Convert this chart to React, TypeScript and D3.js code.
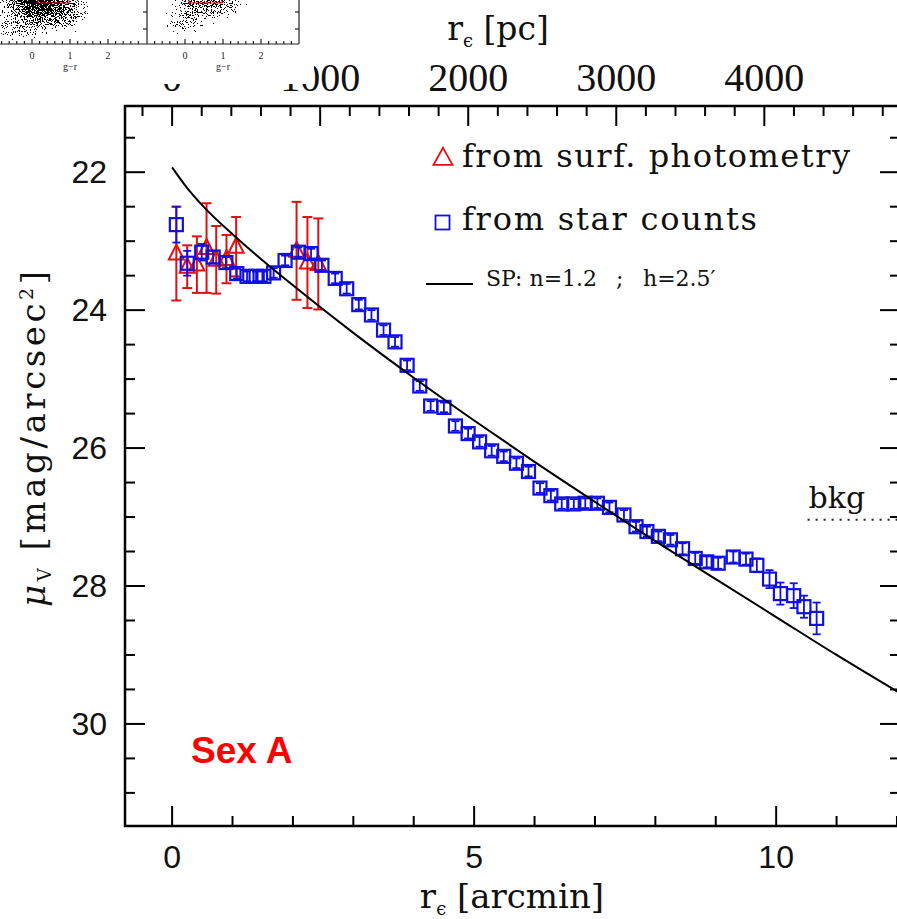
import React from "react";
import * as d3 from "d3";

// ---------- data ----------
const PC_PER_ARCMIN = 408;

// star counts (blue squares)
const starR = [0.07, 0.25, 0.49, 0.68, 0.89, 1.07, 1.24, 1.39, 1.52, 1.68, 1.87, 2.09, 2.30, 2.48, 2.70, 2.89, 3.09, 3.30, 3.50, 3.69, 3.89, 4.10, 4.28, 4.50, 4.69, 4.90, 5.09, 5.29, 5.49, 5.70, 5.90, 6.09, 6.27, 6.45, 6.65, 6.84, 7.04, 7.24, 7.48, 7.68, 7.86, 8.05, 8.25, 8.45, 8.66, 8.85, 9.04, 9.29, 9.50, 9.68, 9.89, 10.07, 10.29, 10.46, 10.67];
const starMu = [22.76, 23.32, 23.16, 23.23, 23.31, 23.47, 23.51, 23.51, 23.51, 23.46, 23.28, 23.16, 23.18, 23.35, 23.54, 23.69, 23.92, 24.07, 24.29, 24.46, 24.80, 25.10, 25.39, 25.41, 25.68, 25.79, 25.91, 26.04, 26.12, 26.22, 26.34, 26.58, 26.69, 26.81, 26.81, 26.80, 26.80, 26.86, 26.97, 27.14, 27.21, 27.28, 27.33, 27.46, 27.60, 27.65, 27.67, 27.58, 27.61, 27.70, 27.90, 28.11, 28.14, 28.30, 28.47];
const starErr = [0.26, 0.18, 0.12, 0.09, 0.08, 0.07, 0.07, 0.07, 0.07, 0.07, 0.07, 0.07, 0.07, 0.07, 0.07, 0.07, 0.07, 0.07, 0.07, 0.07, 0.07, 0.07, 0.07, 0.07, 0.07, 0.07, 0.07, 0.07, 0.07, 0.07, 0.07, 0.07, 0.07, 0.07, 0.07, 0.07, 0.07, 0.07, 0.07, 0.07, 0.07, 0.07, 0.07, 0.08, 0.08, 0.08, 0.08, 0.08, 0.08, 0.10, 0.13, 0.16, 0.18, 0.16, 0.23];

// surface photometry (red triangles)
const photR = [0.07, 0.25, 0.41, 0.57, 0.73, 0.90, 1.06, 2.06, 2.24, 2.42];
const photMu = [23.18, 23.37, 23.34, 23.10, 23.27, 23.26, 23.08, 23.14, 23.31, 23.33];
const photErr = [0.68, 0.31, 0.41, 0.65, 0.49, 0.35, 0.43, 0.71, 0.66, 0.66];

// Sersic model curve
const modelR = [0, 0.25, 0.5, 1, 1.5, 2, 3, 4, 5, 6, 7, 8, 9, 10, 11, 12.1];
const modelMu = [21.93, 22.23, 22.48, 22.9, 23.28, 23.64, 24.33, 24.98, 25.6, 26.2, 26.78, 27.35, 27.9, 28.45, 29.0, 29.58];

// axes
const yMajorTicks = [22, 24, 26, 28, 30];
const xMajorTicks = [0, 5, 10];
const pcMajorTicks = [0, 1000, 2000, 3000, 4000];
const cmdTickLabels = [0, 1, 2];

// background level
const bkgMu = 27.04;
const bkgStartR = 10.52;

// ---------- layout ----------
const W = 897;
const H = 919;
const FRAME = { left: 125, right: 900, top: 106, bottom: 826 };

const x = d3.scaleLinear().domain([-0.78, 12.05]).range([FRAME.left, FRAME.right]);
const y = d3.scaleLinear().domain([21.04, 31.48]).range([FRAME.top, FRAME.bottom]);
const xPc = d3
  .scaleLinear()
  .domain(x.domain().map((d) => d * PC_PER_ARCMIN))
  .range(x.range());

const cmdL = d3.scaleLinear().domain([0, 1]).range([32, 70]);
const cmdR = d3.scaleLinear().domain([0, 1]).range([185, 223]);

const RED = "#e01010";
const BLUE = "#1010e0";
const SERIF = "'DejaVu Serif', serif";
const TIMES = "'Liberation Serif', 'Times New Roman', serif";
const SANS = "'Liberation Sans', Arial, sans-serif";

export default function App() {
  const yMinor = d3.range(21.5, 31.5, 0.5);
  const xMinor = d3.range(0, 13, 1);
  const pcMinor = d3.range(-200, 5000, 200);

  const line = d3
    .line<number>()
    .x((_, i) => x(modelR[i]))
    .y((d) => y(d))
    .curve(d3.curveMonotoneX);

  const tri = (cx: number, cy: number, w: number, h: number) =>
    `M${cx},${cy - h * 0.6} L${cx - w / 2},${cy + h * 0.4} L${cx + w / 2},${cy + h * 0.4} Z`;

  const cmdTicks = d3.range(-0.8, 2.85, 0.2);
  const sq = 13;

  return (
    <svg width={W} height={H} viewBox={`0 0 ${W} ${H}`} style={{ display: "block", background: "#fff" }}>
      <style>{`body{margin:0}`}</style>
      <defs>
        <clipPath id="plotClip">
          <rect x={FRAME.left} y={FRAME.top} width={FRAME.right - FRAME.left} height={FRAME.bottom - FRAME.top} />
        </clipPath>
        <clipPath id="cmdClipL">
          <rect x={0} y={0} width={147} height={44} />
        </clipPath>
        <clipPath id="cmdClipR">
          <rect x={147} y={0} width={152} height={44} />
        </clipPath>
        <radialGradient id="dens">
          <stop offset="0%" stopColor="#000" stopOpacity={1} />
          <stop offset="35%" stopColor="#000" stopOpacity={0.75} />
          <stop offset="70%" stopColor="#000" stopOpacity={0.35} />
          <stop offset="100%" stopColor="#000" stopOpacity={0} />
        </radialGradient>
        <filter id="spk" filterUnits="userSpaceOnUse" x={0} y={0} width={300} height={50} colorInterpolationFilters="sRGB">
          <feTurbulence type="fractalNoise" baseFrequency="1.1" numOctaves={2} seed={7} result="n" />
          <feColorMatrix in="n" type="matrix" values="0 0 0 0 0  0 0 0 0 0  0 0 0 0 0  1.8 0 0 0 -0.4" result="na" />
          <feComposite in="na" in2="SourceAlpha" operator="arithmetic" k1={0} k2={1} k3={1} k4={-0.72} result="s" />
          <feComponentTransfer in="s">
            <feFuncA type="discrete" tableValues="0 1" />
          </feComponentTransfer>
        </filter>
      </defs>

      {/* ---------- frame & ticks ---------- */}
      <rect x={FRAME.left} y={FRAME.top} width={FRAME.right - FRAME.left} height={FRAME.bottom - FRAME.top} fill="none" stroke="#000" strokeWidth={2.5} />
      {yMinor.map((v) => {
        const major = v % 2 === 0;
        const len = major ? 20 : 10;
        return (
          <g key={`yt${v}`} stroke="#000" strokeWidth={2}>
            <line x1={FRAME.left} x2={FRAME.left + len} y1={y(v)} y2={y(v)} />
            <line x1={FRAME.right} x2={FRAME.right - len} y1={y(v)} y2={y(v)} />
          </g>
        );
      })}
      {xMinor.map((v) => {
        const len = v % 5 === 0 ? 20 : 10;
        return <line key={`xt${v}`} x1={x(v)} x2={x(v)} y1={FRAME.bottom} y2={FRAME.bottom - len} stroke="#000" strokeWidth={2} />;
      })}
      {pcMinor.map((v) => {
        const len = v % 1000 === 0 ? 20 : 10;
        return <line key={`pt${v}`} x1={xPc(v)} x2={xPc(v)} y1={FRAME.top} y2={FRAME.top + len} stroke="#000" strokeWidth={2} />;
      })}

      {/* tick labels */}
      {yMajorTicks.map((v) => (
        <text key={`yl${v}`} x={107} y={y(v) + 11} textAnchor="end" fontFamily={SANS} fontSize={32} fill="#111">
          {v}
        </text>
      ))}
      {xMajorTicks.map((v) => (
        <text key={`xl${v}`} x={x(v)} y={868} textAnchor="middle" fontFamily={SANS} fontSize={32} fill="#111">
          {v}
        </text>
      ))}
      {pcMajorTicks.map((v) => (
        <text key={`pl${v}`} x={xPc(v)} y={91} textAnchor="middle" fontFamily={TIMES} fontSize={40} fill="#111">
          {v}
        </text>
      ))}

      {/* axis titles */}
      <text x={512} y={908} textAnchor="middle" fontFamily={SERIF} fontSize={34} fill="#111">
        r<tspan fontSize={18} dy={7}>ϵ</tspan>
        <tspan dy={-7}> [arcmin]</tspan>
      </text>
      <text x={498} y={40} textAnchor="middle" fontFamily={SERIF} fontSize={33} fill="#111">
        r<tspan fontSize={18} dy={7}>ϵ</tspan>
        <tspan dy={-7}> [pc]</tspan>
      </text>
      <text transform="translate(45,439) rotate(-90)" textAnchor="middle" fontFamily={SERIF} fontSize={34} textLength={336} lengthAdjust="spacing" fill="#111">
        <tspan fontStyle="italic">μ</tspan>
        <tspan fontSize={18} dy={6}>V</tspan>
        <tspan dy={-6}> [mag/arcsec</tspan>
        <tspan fontSize={19} dy={-12}>2</tspan>
        <tspan dy={12}>]</tspan>
      </text>

      {/* ---------- data ---------- */}
      <g clipPath="url(#plotClip)">
        {/* surface photometry */}
        <g stroke={RED} strokeWidth={2} fill="none">
          {photR.map((r, i) => {
            const cx = x(r);
            const y1 = y(photMu[i] - photErr[i]);
            const y2 = y(photMu[i] + photErr[i]);
            return (
              <g key={`p${i}`}>
                <line x1={cx} x2={cx} y1={y1} y2={y2} />
                <line x1={cx - 5} x2={cx + 5} y1={y1} y2={y1} />
                <line x1={cx - 5} x2={cx + 5} y1={y2} y2={y2} />
                <path d={tri(cx, y(photMu[i]), 15, 15)} />
              </g>
            );
          })}
        </g>
        {/* star counts */}
        <g stroke={BLUE} strokeWidth={2} fill="none">
          {starR.map((r, i) => {
            const cx = x(r);
            const cy = y(starMu[i]);
            const y1 = y(starMu[i] - starErr[i]);
            const y2 = y(starMu[i] + starErr[i]);
            return (
              <g key={`s${i}`}>
                <line x1={cx} x2={cx} y1={y1} y2={y2} strokeWidth={1.8} />
                <line x1={cx - 4} x2={cx + 4} y1={y1} y2={y1} strokeWidth={1.8} />
                <line x1={cx - 4} x2={cx + 4} y1={y2} y2={y2} strokeWidth={1.8} />
                <rect x={cx - sq / 2} y={cy - sq / 2} width={sq} height={sq} strokeWidth={2.2} />
              </g>
            );
          })}
        </g>
        {/* model */}
        <path d={line(modelMu) || ""} fill="none" stroke="#000" strokeWidth={2} />
        {/* background */}
        <line x1={x(bkgStartR)} x2={FRAME.right} y1={y(bkgMu)} y2={y(bkgMu)} stroke="#222" strokeWidth={2} strokeDasharray="2,6" />
      </g>
      <text x={x(bkgStartR) + 1} y={y(bkgMu) - 12} fontFamily={SERIF} fontSize={30} fill="#111">
        bkg
      </text>

      {/* ---------- legend ---------- */}
      <path d={tri(443, 158, 19, 17)} fill="none" stroke={RED} strokeWidth={1.8} />
      <text x={462} y={167} fontFamily={SERIF} fontSize={32} textLength={388} lengthAdjust="spacing" fill="#111">
        from surf. photometry
      </text>
      <rect x={435.5} y={215.5} width={14} height={14} fill="none" stroke={BLUE} strokeWidth={1.8} />
      <text x={462} y={230} fontFamily={SERIF} fontSize={32} textLength={295} lengthAdjust="spacing" fill="#111">
        from star counts
      </text>
      <line x1={426} x2={473} y1={284} y2={284} stroke="#000" strokeWidth={2} />
      <text x={486} y={286} fontFamily={SERIF} fontSize={22} fill="#111">
        SP: n=1.2
      </text>
      <text x={616} y={286} fontFamily={SERIF} fontSize={22} fill="#111">
        ;
      </text>
      <text x={643} y={286} fontFamily={SERIF} fontSize={22} fill="#111">
        h=2.5′
      </text>

      <text x={191} y={763} fontFamily={SANS} fontWeight="bold" fontSize={37} fill="#ff0000">
        Sex A
      </text>

      {/* ---------- inset from neighbouring figure (cropped) ---------- */}
      <rect x={0} y={0} width={314} height={84} fill="#fff" />
      <g clipPath="url(#cmdClipL)">
        <g filter="url(#spk)">
          <ellipse cx={36} cy={2} rx={58} ry={34} fill="url(#dens)" />
          <ellipse cx={62} cy={14} rx={44} ry={30} fill="url(#dens)" fillOpacity={0.6} />
          <ellipse cx={16} cy={30} rx={38} ry={18} fill="url(#dens)" fillOpacity={0.55} />
        </g>
        <rect x={38} y={-5} width={31} height={8} fill="none" stroke={RED} strokeWidth={1} />
      </g>
      <g clipPath="url(#cmdClipR)">
        <g filter="url(#spk)">
          <ellipse cx={198} cy={4} rx={46} ry={32} fill="url(#dens)" fillOpacity={0.75} />
          <ellipse cx={230} cy={4} rx={28} ry={20} fill="url(#dens)" fillOpacity={0.5} />
          <ellipse cx={180} cy={26} rx={30} ry={16} fill="url(#dens)" fillOpacity={0.4} />
        </g>
        <rect x={189} y={-5} width={33} height={8} fill="none" stroke={RED} strokeWidth={1} />
      </g>
      <g stroke="#222" strokeWidth={1.2}>
        <line x1={0} x2={299} y1={44} y2={44} />
        <line x1={147} x2={147} y1={0} y2={44} />
        <line x1={299} x2={299} y1={0} y2={44} />
        {[12, 29].map((t) => (
          <g key={`ct${t}`}>
            <line x1={147} x2={143} y1={t} y2={t} />
            <line x1={299} x2={295} y1={t} y2={t} />
          </g>
        ))}
        {cmdTicks.map((t, i) => {
          const major = Math.abs(t - Math.round(t)) < 1e-6;
          const len = major ? 5 : 3;
          return (
            <g key={`cmt${i}`}>
              <line x1={cmdL(t)} x2={cmdL(t)} y1={44} y2={44 - len} />
              <line x1={cmdR(t)} x2={cmdR(t)} y1={44} y2={44 - len} />
            </g>
          );
        })}
      </g>
      {cmdTickLabels.map((v) => (
        <g key={`cml${v}`} fontFamily={TIMES} fontSize={10} fill="#222" textAnchor="middle">
          <text x={cmdL(v)} y={59}>{v}</text>
          <text x={cmdR(v)} y={59}>{v}</text>
        </g>
      ))}
      <text x={70} y={70} fontFamily={TIMES} fontSize={10} fill="#222" textAnchor="middle">g−r</text>
      <text x={223} y={70} fontFamily={TIMES} fontSize={10} fill="#222" textAnchor="middle">g−r</text>
    </svg>
  );
}
